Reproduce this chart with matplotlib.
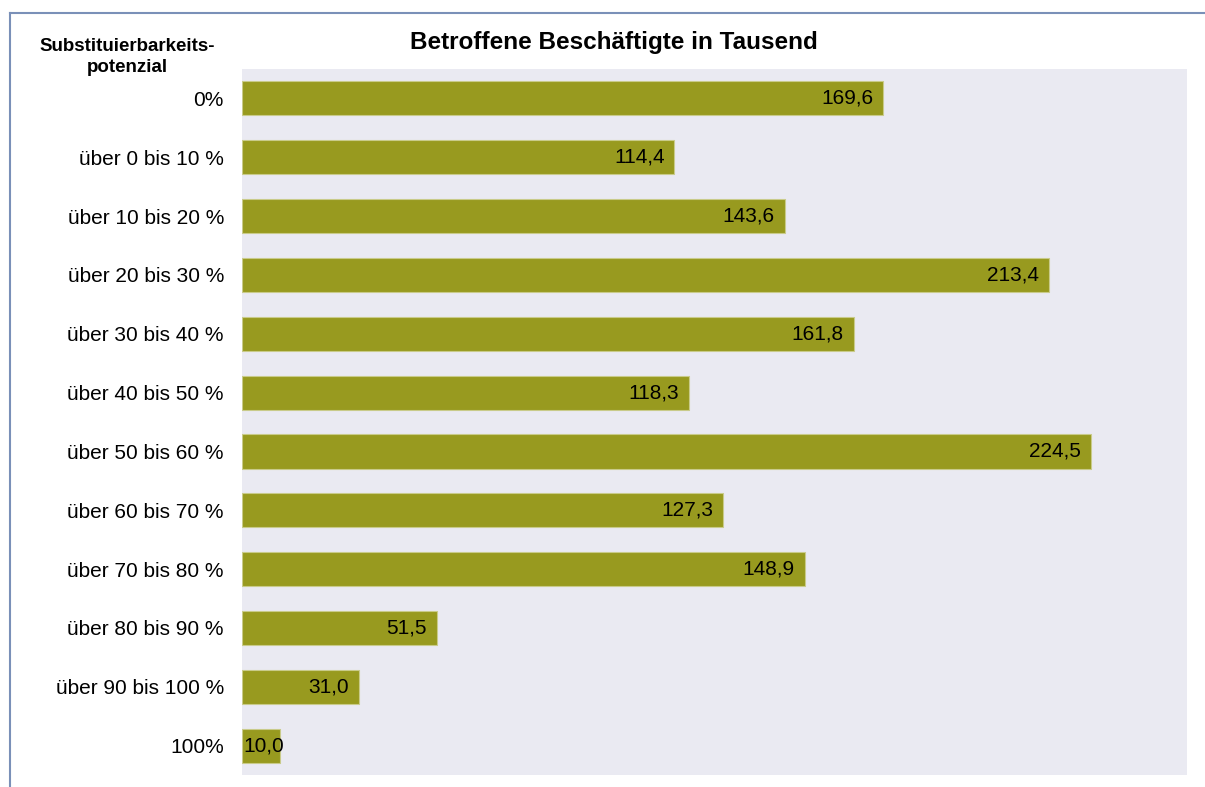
import matplotlib.pyplot as plt
from matplotlib.lines import Line2D

plt.rcParams['font.family'] = ['Liberation Sans', 'DejaVu Sans']

# categories and values (Beschäftigte in Tausend)
categories = ['0%', 'über 0 bis 10 %', 'über 10 bis 20 %', 'über 20 bis 30 %',
              'über 30 bis 40 %', 'über 40 bis 50 %', 'über 50 bis 60 %',
              'über 60 bis 70 %', 'über 70 bis 80 %', 'über 80 bis 90 %',
              'über 90 bis 100 %', '100%']
values = [169.6, 114.4, 143.6, 213.4, 161.8, 118.3, 224.5, 127.3, 148.9,
          51.5, 31.0, 10.0]

bar_color = '#989a1f'
bg_color = '#eaeaf2'

fig = plt.figure(figsize=(12.05, 7.87), dpi=100)
ax = fig.add_axes([0.2008, 0.0152, 0.7842, 0.8971])
ax.set_facecolor(bg_color)

ypos = list(range(len(categories)))
ax.barh(ypos, values, height=0.58, color=bar_color,
        edgecolor='#c9cb8a', linewidth=0.8)

for y, v in zip(ypos, values):
    lbl = f'{v:.1f}'.replace('.', ',')
    if v < 20:
        ax.text(0.3, y, lbl, ha='left', va='center', fontsize=15)
    else:
        ax.text(v - 2.6, y, lbl, ha='right', va='center', fontsize=15)

ax.set_xlim(0, 250)
ax.set_ylim(len(categories) - 0.5, -0.5)
ax.set_yticks(ypos)
ax.set_yticklabels(categories, fontsize=15)
ax.set_xticks([])
ax.tick_params(axis='y', length=0, pad=13)
for s in ax.spines.values():
    s.set_visible(False)

fig.text(0.5095, 0.946, 'Betroffene Beschäftigte in Tausend', ha='center',
         va='center', fontsize=17.5, fontweight='bold')
fig.text(0.1055, 0.941, 'Substituierbarkeits-', ha='center', va='center',
         fontsize=13.5, fontweight='bold')
fig.text(0.1055, 0.914, 'potenzial', ha='center', va='center',
         fontsize=13.5, fontweight='bold')

# frame lines of the surrounding box
fig.add_artist(Line2D([0.0083, 1.0], [0.9835, 0.9835], color='#7a90b8', lw=1.5))
fig.add_artist(Line2D([0.0083, 0.0083], [0.0, 0.9835], color='#7a90b8', lw=1.5))

fig.savefig('out.png', dpi=100)
